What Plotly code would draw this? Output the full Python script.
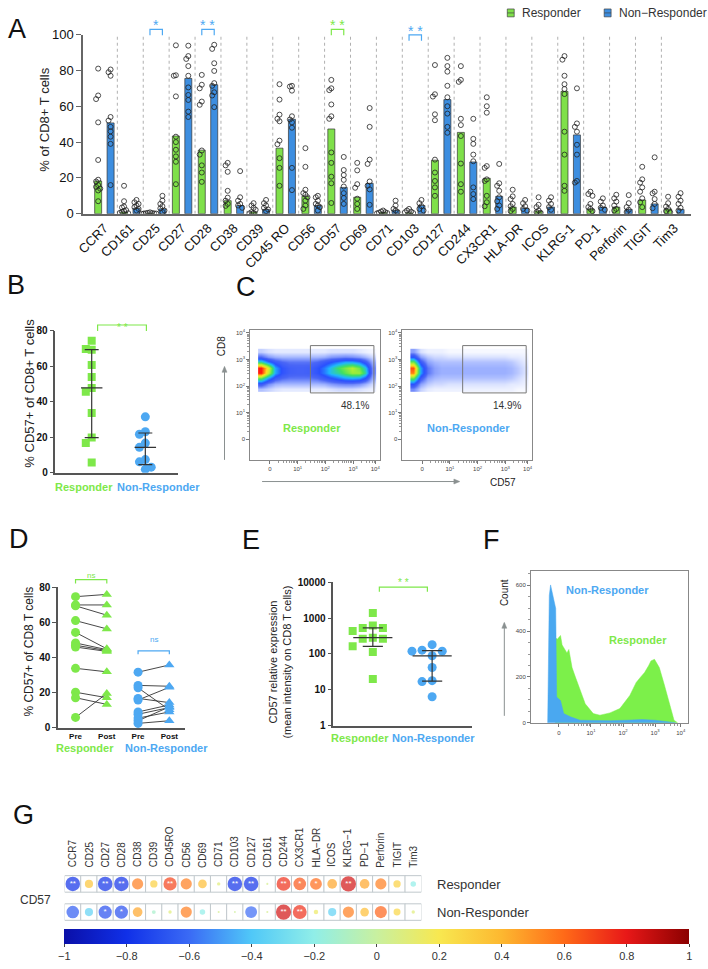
import numpy as np
import plotly.graph_objects as go

W, H = 708, 969
FONT = 'Liberation Sans, Arial, Helvetica, sans-serif'
DARK = '#222222'
BAR_GREEN = '#7fe04a'
BAR_BLUE = '#3d8ee0'
GREEN = '#7ee84a'
BLUE = '#4da8f2'

# ---------------- panel A : % of CD8+ T cells ----------------
markers = ["CCR7", "CD161", "CD25", "CD27", "CD28", "CD38", "CD39", "CD45 RO", "CD56", "CD57",
           "CD69", "CD71", "CD103", "CD127", "CD244", "CX3CR1", "HLA-DR", "ICOS", "KLRG-1",
           "PD-1", "Perforin", "TIGIT", "Tim3"]
resp_mean = [18.3, 1.0, 0.3, 43.4, 35.5, 7.3, 1.0, 36.6, 9.7, 47.3, 9.2, 0.8, 0.5, 29.9,
             45.4, 19.8, 3.7, 1.5, 68.3, 2.7, 3.7, 7.7, 2.7]
nonresp_mean = [50.7, 3.0, 2.7, 75.5, 72.0, 4.6, 2.4, 52.7, 4.6, 14.7, 17.0, 2.0, 4.6, 63.7,
                28.9, 9.7, 3.1, 3.7, 44.0, 3.7, 2.4, 5.5, 2.4]
resp_pts = [
    [81, 66, 64, 51, 30, 19, 18, 16, 15, 14, 13, 7],
    [15.6, 7, 4, 3.5, 2, 1.5, 1, 0.5, 0.3],
    [0.8, 0.5, 0.4, 0.3, 0.2, 0.1, 0.1, 0],
    [94, 77.3, 77, 65.5, 43, 40, 35.7, 32, 29, 16.5],
    [77.5, 72, 70, 62.6, 60.8, 35.3, 33, 27, 23, 17.8],
    [28.4, 27, 23.4, 12.8, 9, 7.3, 5.5, 4.4],
    [5.9, 4.6, 3.3, 2.2, 0.9, 0.4, 0.2],
    [72.3, 63.7, 55.3, 53, 51.6, 40.8, 38.8, 31, 25.6, 15.6],
    [36.6, 26.2, 13.4, 11.5, 10.6, 9.2, 7.3, 4.6, 2.7],
    [74.7, 70, 69, 61, 54.4, 53, 34.2, 28.4, 20.7, 17, 6],
    [28.4, 24.2, 16.5, 14.5, 8.4, 5.5, 2.7],
    [1.8, 1.2, 0.9, 0.6, 0.4, 0.2],
    [2.7, 1.8, 1.2, 0.8, 0.4],
    [83, 66.7, 65.4, 55.5, 52.2, 30.2, 23, 18.3, 14.7, 10],
    [82.4, 74.7, 73.6, 53, 49.5, 43.4, 28, 16.5, 12.3],
    [65, 60, 56.4, 26.6, 25.6, 19.2, 18.3, 10, 6.4, 4.2],
    [13.4, 9.7, 8.2, 5.5, 4.2, 2.7, 1.5],
    [9.2, 5, 3.7, 1.8, 0.9, 0.5],
    [88, 86, 77, 72.3, 69.6, 66.8, 45.8, 33, 15.6, 12.8],
    [12.3, 11, 10, 5.5, 3.7, 2.7, 1.5],
    [10.6, 8.6, 6.8, 4.6, 2.7, 1.8],
    [26.2, 19.2, 17.4, 14.7, 12.3, 8.6, 6.4, 3.7],
    [9.5, 5.9, 4, 2.7, 1.5, 0.8],
]
nonresp_pts = [
    [80.5, 79, 77, 54, 52, 48.5, 46, 43, 39, 16],
    [7.7, 6.4, 5.5, 4.6, 3.7, 2.7, 1.8],
    [10, 7.3, 5.5, 4.2, 3, 1.8, 0.9],
    [93.8, 88, 86.4, 82.4, 77, 70.5, 66.3, 63.5, 57, 54],
    [94.3, 92, 84, 79.7, 72.9, 71.4, 67.8, 66, 59.5],
    [23.8, 9.2, 7.3, 5.5, 4.6, 3.3],
    [7.7, 5.9, 4.6, 3.3, 2.4, 1.5],
    [71.4, 71, 68.7, 54.4, 52.6, 51, 48, 25.6, 13.2],
    [10, 9.2, 7.3, 5.5, 4.6, 3.7, 1.8],
    [31.7, 24.4, 21.6, 18.9, 15.2, 11.5, 8.8, 5.5],
    [59, 48.5, 30.2, 27.8, 18, 15.6, 13.6, 5],
    [7.3, 4.6, 2.7, 1.8, 0.9],
    [7.7, 5.9, 4.2, 2.7, 1.8],
    [87, 82.4, 79.3, 71.4, 65, 60, 55.9, 48.5, 45.2],
    [53, 41.8, 39, 33, 29.3, 14.7, 11, 8.2],
    [27.8, 17, 15.6, 12.8, 9.2, 7, 4.6, 2.7],
    [7.7, 5.9, 4.2, 2.7, 1.8],
    [9.2, 7.3, 5.5, 3.7, 2.2],
    [70, 50.4, 48.5, 45.8, 38.5, 33, 18.3, 17.4],
    [8.6, 6.8, 4.6, 3.3, 2.2],
    [10.4, 5.9, 3.7, 2.2, 0.9],
    [31.5, 12.3, 11.4, 8.2, 5.5, 3.1],
    [11.5, 9.5, 7.3, 5.5, 3.3, 1.8],
]
# significance above the pairs: (marker, stars, colour of group)
a_sig = [("CD25", "*", "blue"), ("CD28", "* *", "blue"), ("CD57", "* *", "green"), ("CD103", "* *", "blue")]
legend_names = ["Responder", "Non−Responder"]

# ---------------- panel B : % CD57+ ----------------
b_resp = [74.4, 69.8, 69.4, 60.7, 54.0, 47.8, 45.7, 33.7, 19.8, 16.7, 5.7]
b_nonresp = [31.5, 23.1, 21.7, 16.7, 14.3, 7.4, 6.1, 3.1, 1.9]

# ---------------- panel C : CD8 vs CD57 density (estimated from the dot plots) ----------------
c_x = [-0.3, -0.05, 0.2, 0.45, 0.7, 0.95, 1.2, 1.45, 1.7, 1.95, 2.2, 2.45, 2.7, 2.95, 3.2, 3.45, 3.7]
c_y = [1.9, 2.1, 2.3, 2.5, 2.7, 2.9, 3.1, 3.3]
c_resp = [
    [0.8, 0.6, 0.4, 0.3, 0.3, 0.3, 0.3, 0.3, 0.3, 0.3, 0.4, 0.5, 0.5, 0.5, 0.4, 0.3, 0.2],
    [2.5, 1.5, 1, 0.9, 0.9, 0.9, 0.9, 0.9, 0.9, 1, 1.3, 1.5, 1.6, 1.6, 1.4, 1, 0.5],
    [6, 4, 2.5, 2, 1.8, 1.8, 1.8, 1.8, 2, 2.5, 3, 3.5, 4, 4.2, 4, 3, 1.1],
    [10, 7, 4, 2.8, 2.3, 2.2, 2.2, 2.3, 2.8, 3.5, 4.5, 5, 5.8, 6.5, 6.5, 5, 1.5],
    [10, 7.5, 4, 2.8, 2.3, 2.2, 2.2, 2.3, 2.8, 3.5, 4.5, 5.5, 6.2, 6.8, 6, 4.5, 1.5],
    [5, 3.5, 2.5, 2, 1.8, 1.8, 1.8, 1.8, 2, 2.5, 3, 3.5, 4, 4, 3.5, 2.5, 1],
    [2, 1.3, 1, 0.9, 0.9, 0.9, 0.9, 0.9, 0.9, 1, 1.3, 1.4, 1.5, 1.4, 1.2, 0.9, 0.5],
    [0.6, 0.4, 0.3, 0.3, 0.3, 0.3, 0.3, 0.3, 0.3, 0.3, 0.4, 0.4, 0.4, 0.4, 0.3, 0.2, 0.1],
]
c_nonresp = [
    [1.5, 0.6, 0.3, 0.2, 0.2, 0.2, 0.2, 0.2, 0.2, 0.2, 0.2, 0.2, 0.2, 0.2, 0.2, 0.1, 0.1],
    [3, 1.2, 0.7, 0.5, 0.5, 0.4, 0.4, 0.4, 0.4, 0.4, 0.4, 0.4, 0.4, 0.4, 0.3, 0.3, 0.2],
    [6, 2.5, 1.2, 0.9, 0.8, 0.8, 0.8, 0.8, 0.8, 0.8, 0.8, 0.8, 0.8, 0.8, 0.7, 0.5, 0.3],
    [9, 4, 1.8, 1.2, 1, 1, 1, 1, 1, 1, 1, 1, 1, 1, 0.9, 0.7, 0.4],
    [9.5, 4, 1.8, 1.2, 1, 1, 1, 1, 1, 1, 1, 1, 1, 1, 0.9, 0.7, 0.4],
    [6, 2.5, 1.2, 0.9, 0.8, 0.8, 0.8, 0.8, 0.8, 0.8, 0.8, 0.8, 0.8, 0.8, 0.7, 0.5, 0.3],
    [3, 1.2, 0.7, 0.5, 0.5, 0.4, 0.4, 0.4, 0.4, 0.4, 0.4, 0.4, 0.4, 0.4, 0.3, 0.3, 0.2],
    [1.2, 0.4, 0.2, 0.2, 0.2, 0.1, 0.1, 0.1, 0.1, 0.1, 0.1, 0.1, 0.1, 0.1, 0.1, 0.1, 0.1],
]
c_pct = ["48.1%", "14.9%"]
flow_tickvals = [0, 1, 2, 3, 3.8]
flow_ticktext = ["0", "10<sup>1</sup>", "10<sup>2</sup>", "10<sup>3</sup>", "10<sup>4</sup>"]

# ---------------- panel D : pre / post pairs ----------------
d_resp_pre = [74.6, 69.9, 69.4, 61.0, 54.3, 48.3, 47.0, 46.0, 33.9, 20.3, 17.2, 6.0]
d_resp_post = [75.9, 69.9, 64.1, 56.3, 45.0, 44.5, 44.0, 43.5, 31.9, 17.2, 13.4, 19.6]
d_non_pre = [31.7, 24.2, 22.8, 16.8, 15.9, 9.1, 7.8, 5.6, 4.1, 2.6]
d_non_post = [35.8, 23.7, 10.3, 14.4, 23.1, 13.1, 11.6, 9.1, 12.0, 4.1]

# ---------------- panel E : CD57 MFI ----------------
e_resp = [1380, 618, 534, 534, 434, 285, 267, 267, 164, 114, 20]
e_nonresp = [182, 128, 120, 120, 89, 42, 18, 17, 6.4]

# ---------------- panel F : CD57 histograms ----------------
f_x_resp = [-0.11, -0.10, -0.05, 0.0, 0.05, 0.1, 0.15, 0.2, 0.25, 0.31, 0.36, 0.41, 0.5, 0.56,
            0.66, 0.82, 1.07, 1.28, 1.59, 1.9, 2.21, 2.41, 2.55, 2.67, 2.8, 2.87, 2.98, 3.05,
            3.13, 3.28, 3.44, 3.59, 3.70]
f_resp = [0, 370, 365, 375, 381, 340, 327, 320, 305, 320, 280, 241, 205, 183, 140, 83, 40, 33,
          43, 62, 119, 176, 200, 219, 250, 270, 277, 262, 241, 169, 83, 11, 0]
f_x_non = [-0.35, -0.30, -0.26, -0.21, -0.16, -0.10, -0.07, 0.05, 0.15, 0.36, 0.66, 1.07, 1.59,
           2.1, 2.6, 3.0, 3.44, 3.64]
f_non = [0, 556, 602, 571, 545, 499, 112, 97, 40, 26, 11, 9, 9, 11, 14, 11, 4, 0]

# ---------------- panel G : correlation with CD57 ----------------
g_markers = ["CCR7", "CD25", "CD27", "CD28", "CD38", "CD39", "CD45RO", "CD56", "CD69", "CD71",
             "CD103", "CD127", "CD161", "CD244", "CX3CR1", "HLA−DR", "ICOS", "KLRG−1", "PD−1",
             "Perforin", "TIGIT", "Tim3"]
g_resp_r = [-0.8, 0.35, -0.8, -0.8, 0.55, 0.3, 0.7, 0.55, 0.38, 0.1, -0.8, -0.8, 0.05, 0.75,
            0.65, 0.6, 0.45, 0.85, 0.45, 0.55, 0.3, -0.2]
g_resp_sig = ["**", "", "**", "**", "", "", "**", "", "", "", "**", "**", "", "**", "*", "*",
              "", "**", "", "", "", ""]
g_non_r = [-0.65, -0.35, -0.7, -0.7, 0.45, -0.12, 0.1, 0.55, -0.2, 0.05, 0.02, -0.6, 0.05, 0.85,
           0.75, 0.15, -0.35, 0.55, 0.38, 0.62, 0.28, 0.1]
g_non_sig = ["", "", "*", "*", "", "", "", "", "", "", "", "", "", "**", "**", "", "", "", "",
             "", "", ""]
g_rows = ["Responder", "Non-Responder"]
corr_ticks = [-1, -0.8, -0.6, -0.4, -0.2, 0, 0.2, 0.4, 0.6, 0.8, 1]


def fx(px):
    return px / W


def fy(py):
    return 1 - py / H


def dom_x(a, b):
    return [fx(a), fx(b)]


def dom_y(top, bottom):
    return [fy(bottom), fy(top)]


def swarm(vals, px_per_unit, diam, step):
    # simple beeswarm: centre first, then alternate left / right
    placed = []
    offs = []
    for v in vals:
        y = v * px_per_unit
        cands = [0.0]
        for j in range(1, 12):
            cands += [-j * step, j * step]
        for c in cands:
            if all(abs(c - o) > 1e-9 or abs(y - yy) >= diam for o, yy in placed):
                break
        placed.append((c, y))
        offs.append(c)
    return offs


def median_iqr(vals):
    q1, m, q3 = np.percentile(vals, [25, 50, 75], method='weibull')
    return q1, m, q3


def errbar(centers, groups, w, cw):
    xs, ys = [], []
    for c, vals in zip(centers, groups):
        q1, m, q3 = median_iqr(vals)
        xs += [c - w, c + w, None, c, c, None, c - cw, c + cw, None, c - cw, c + cw, None]
        ys += [m, m, None, q1, q3, None, q1, q1, None, q3, q3, None]
    return xs, ys


annots = []
shapes = []


def txt(px, py, text, size=12, color=DARK, bold=False, angle=0, xanchor='center', yanchor='middle'):
    annots.append(dict(x=fx(px), y=fy(py), xref='paper', yref='paper', text=text, showarrow=False,
                       font=dict(size=size, color=color, weight='bold' if bold else 'normal'),
                       textangle=angle, xanchor=xanchor, yanchor=yanchor))


def bracket(xref, x0, x1, top_py, bot_py, color):
    shapes.append(dict(type='path', xref=xref, yref='paper',
                       path=f"M {x0},{fy(bot_py)} L {x0},{fy(top_py)} L {x1},{fy(top_py)} L {x1},{fy(bot_py)}",
                       line=dict(color=color, width=1.2)))


def arrow(x0, y0, x1, y1):
    # grey axis arrow drawn in page pixels, head at (x1, y1)
    col = '#8a9090'
    shapes.append(dict(type='line', xref='paper', yref='paper', x0=fx(x0), y0=fy(y0), x1=fx(x1), y1=fy(y1),
                       line=dict(color=col, width=1)))
    if x0 == x1:
        d = 5 if y1 < y0 else -5
        pts = [(x1, y1 - 1), (x1 - 2.5, y1 + d), (x1 + 2.5, y1 + d)]
    else:
        d = -5 if x1 > x0 else 5
        pts = [(x1 + 1, y1), (x1 + d, y1 - 2.5), (x1 + d, y1 + 2.5)]
    path = "M " + " L ".join(f"{fx(a)},{fy(b)}" for a, b in pts) + " Z"
    shapes.append(dict(type='path', xref='paper', yref='paper', path=path, fillcolor=col,
                       line=dict(color=col, width=0.5)))


fig = go.Figure()

# ---- A ----
n = len(markers)
xg = [i - 0.24 for i in range(n)]
xb = [i + 0.24 for i in range(n)]
fig.add_trace(go.Bar(x=xg, y=resp_mean, width=0.27, name=legend_names[0], showlegend=False,
                     marker=dict(color=BAR_GREEN, line=dict(color='#333', width=0.7)),
                     xaxis='x', yaxis='y'))
fig.add_trace(go.Bar(x=xb, y=nonresp_mean, width=0.27, name=legend_names[1], showlegend=False,
                     marker=dict(color=BAR_BLUE, line=dict(color='#333', width=0.7)),
                     xaxis='x', yaxis='y'))
dx, dy = [], []
for centers, groups in ((xg, resp_pts), (xb, nonresp_pts)):
    for c, pts in zip(centers, groups):
        offs = swarm(pts, 1.82, 4.5, 0.08)
        dx += [c + o for o in offs]
        dy += pts
fig.add_trace(go.Scatter(x=dx, y=dy, mode='markers', showlegend=False, xaxis='x', yaxis='y',
                         marker=dict(symbol='circle-open', size=5, color='#222',
                                     line=dict(width=0.8, color='#222'))))
for i in range(n - 1):
    shapes.append(dict(type='line', xref='x', yref='y', x0=i + 0.5, x1=i + 0.5, y0=0, y1=100,
                       line=dict(color='#b0b0b0', width=1, dash='dot'), layer='below'))
for name, stars, grp in a_sig:
    i = markers.index(name)
    col = BLUE if grp == 'blue' else GREEN
    top = 28.3 if name == "CD103" else 22.7
    bracket('x', xg[i], xb[i], top, top + 6, col)
    annots.append(dict(x=i, y=fy(top - 4), xref='x', yref='paper', text=stars, showarrow=False,
                       yanchor='middle', font=dict(size=14, color=col)))
txt(38, 115, "% of CD8+ T cells", size=13, angle=-90)
# legend drawn by hand (small boxes + labels)
for name, col, bx in ((legend_names[0], BAR_GREEN, 506), (legend_names[1], BAR_BLUE, 604)):
    shapes.append(dict(type='rect', xref='paper', yref='paper', x0=fx(bx), x1=fx(bx + 7),
                       y0=fy(10), y1=fy(2), fillcolor=col, line=dict(color='#444', width=0.7)))
    shapes.append(dict(type='line', xref='paper', yref='paper', x0=fx(bx), x1=fx(bx + 7),
                       y0=fy(6), y1=fy(6), line=dict(color='#444', width=0.7)))
    txt(bx + 13, 6, name, size=12, color='#333', xanchor='left')

# ---- B ----
b_off_r = swarm(b_resp, 1.8, 9, 0.11)
b_off_n = swarm(b_nonresp, 1.8, 9, 0.11)
fig.add_trace(go.Scatter(x=[0 + o for o in b_off_r], y=b_resp, mode='markers', showlegend=False,
                         marker=dict(symbol='square', size=8, color=GREEN), xaxis='x2', yaxis='y2'))
fig.add_trace(go.Scatter(x=[1 + o for o in b_off_n], y=b_nonresp, mode='markers', showlegend=False,
                         marker=dict(symbol='circle', size=9, color=BLUE), xaxis='x2', yaxis='y2'))
ex, ey = errbar([0, 1], [b_resp, b_nonresp], 0.2, 0.13)
fig.add_trace(go.Scatter(x=ex, y=ey, mode='lines', showlegend=False, line=dict(color='#333', width=1.2),
                         xaxis='x2', yaxis='y2'))
bracket('x2', 0.11, 1.02, 323, 329, GREEN)
annots.append(dict(x=0.565, y=fy(318), xref='x2', yref='paper', text='* *', showarrow=False,
                   font=dict(size=10, color=GREEN)))
txt(23, 392, "% CD57+ of CD8+ T cells", size=13, angle=-90)
txt(78, 488, "Responder", size=11, color=GREEN, bold=True)
txt(153, 488, "Non-Responder", size=11, color=BLUE, bold=True)

# ---- C ----
c_scale = [[0, '#ffffff'], [0.03, '#e4eaff'], [0.1, '#9cb0ff'], [0.2, '#4a66f6'], [0.3, '#2a50ff'],
           [0.42, '#20b8ff'], [0.55, '#40e060'], [0.68, '#b8f030'], [0.8, '#ffe020'],
           [0.9, '#ff8010'], [1, '#ff1a10']]
for z, xa, ya in ((c_resp, 'x3', 'y3'), (c_nonresp, 'x4', 'y4')):
    fig.add_trace(go.Heatmap(x=c_x, y=c_y, z=z, zmin=0, zmax=10, zsmooth='best', colorscale=c_scale,
                             showscale=False, hoverinfo='skip', xaxis=xa, yaxis=ya))
    shapes.append(dict(type='rect', xref=xa, yref=ya, x0=1.46, x1=3.75, y0=1.74, y1=3.52,
                       line=dict(color='#777', width=1)))
txt(352, 405, c_pct[0], size=10, color='#333')
txt(506, 405, c_pct[1], size=10, color='#333')
txt(308, 428, "Responder", size=11, color=GREEN, bold=True)
txt(467, 428, "Non-Responder", size=11, color=BLUE, bold=True)
txt(217, 345, "CD8", size=10, angle=-90)
arrow(220, 460, 220, 366)
arrow(258, 482, 457, 482)
txt(502, 483, "CD57", size=10)

# ---- D ----
lx, ly = [], []
for pre, post, x0 in ((d_resp_pre, d_resp_post, 0), (d_non_pre, d_non_post, 2)):
    for a, b in zip(pre, post):
        lx += [x0, x0 + 1, None]
        ly += [a, b, None]
fig.add_trace(go.Scatter(x=lx, y=ly, mode='lines', showlegend=False, line=dict(color='#333', width=0.9),
                         xaxis='x5', yaxis='y5'))
for vals, xpos, sym, col in ((d_resp_pre, 0, 'circle', GREEN), (d_resp_post, 1, 'triangle-up', GREEN),
                             (d_non_pre, 2, 'circle', BLUE), (d_non_post, 3, 'triangle-up', BLUE)):
    fig.add_trace(go.Scatter(x=[xpos] * len(vals), y=vals, mode='markers', showlegend=False,
                             marker=dict(symbol=sym, size=9, color=col), xaxis='x5', yaxis='y5'))
bracket('x5', 0, 1, 581.7, 585.5, GREEN)
bracket('x5', 2, 3, 654, 657.5, BLUE)
annots.append(dict(x=0.5, y=fy(577), xref='x5', yref='paper', text='ns', showarrow=False,
                   font=dict(size=8, color=GREEN)))
annots.append(dict(x=2.5, y=fy(649.5), xref='x5', yref='paper', text='ns', showarrow=False,
                   font=dict(size=8, color=BLUE)))
txt(22, 655, "% CD57+ of CD8 T cells", size=12, angle=-90)
txt(79, 753, "Responder", size=11, color=GREEN, bold=True)
txt(161, 753, "Non-Responder", size=11, color=BLUE, bold=True)

# ---- E ----
e_off_r = swarm(list(np.log10(e_resp)), 36.4, 9, 0.17)
e_off_n = swarm(list(np.log10(e_nonresp)), 36.4, 9, 0.17)
fig.add_trace(go.Scatter(x=[0 + o for o in e_off_r], y=e_resp, mode='markers', showlegend=False,
                         marker=dict(symbol='square', size=8, color=GREEN), xaxis='x6', yaxis='y6'))
fig.add_trace(go.Scatter(x=[1 + o for o in e_off_n], y=e_nonresp, mode='markers', showlegend=False,
                         marker=dict(symbol='circle', size=9, color=BLUE), xaxis='x6', yaxis='y6'))
ex, ey = errbar([0, 1], [e_resp, e_nonresp], 0.33, 0.17)
fig.add_trace(go.Scatter(x=ex, y=ey, mode='lines', showlegend=False, line=dict(color='#333', width=1.2),
                         xaxis='x6', yaxis='y6'))
bracket('x6', 0.11, 0.92, 589.3, 594, GREEN)
annots.append(dict(x=0.515, y=fy(585), xref='x6', yref='paper', text='* *', showarrow=False,
                   font=dict(size=10, color=GREEN)))
txt(276, 665, "CD57 relative expression<br>(mean intensity on CD8 T cells)", size=11, angle=-90)
txt(357, 743, "Responder", size=11, color=GREEN, bold=True)
txt(431, 743, "Non-Responder", size=11, color=BLUE, bold=True)

# ---- F ----
fig.add_trace(go.Scatter(x=f_x_resp, y=f_resp, mode='lines', fill='tozeroy', showlegend=False,
                         fillcolor='#7cf04a', line=dict(color='#7cf04a', width=0.5),
                         xaxis='x7', yaxis='y7'))
fig.add_trace(go.Scatter(x=f_x_non, y=f_non, mode='lines', fill='tozeroy', showlegend=False,
                         fillcolor='#4aa8f0', line=dict(color='#4aa8f0', width=0.5),
                         xaxis='x7', yaxis='y7'))
txt(607, 592, "Non-Responder", size=11, color=BLUE, bold=True)
txt(638, 643, "Responder", size=11, color=GREEN, bold=True)
txt(503, 595, "Count", size=10, angle=-90)
arrow(503, 720, 503, 626)

# ---- G ----
corr_scale = [[0, '#0a0fa8'], [0.1, '#1030e8'], [0.2, '#3a6af5'], [0.3, '#50c8f8'], [0.4, '#90eee8'],
              [0.5, '#c8f0a0'], [0.6, '#f8e850'], [0.7, '#fdb830'], [0.8, '#ff6a18'],
              [0.9, '#e81818'], [1, '#8b0000']]
ng = len(g_markers)
gx = list(range(ng)) * 2
gy = [1] * ng + [0] * ng
gr = g_resp_r + g_non_r
gs = g_resp_sig + g_non_sig
fig.add_trace(go.Scatter(x=gx, y=gy, mode='markers', showlegend=False, hoverinfo='skip',
                         marker=dict(symbol='square', size=16.5, color='white',
                                     line=dict(color='#c0c8cc', width=1)),
                         xaxis='x8', yaxis='y8'))
fig.add_trace(go.Scatter(x=gx, y=gy, mode='markers', showlegend=False,
                         marker=dict(symbol='circle', size=[max(2, 17 * abs(r) ** 0.7) for r in gr],
                                     color=gr, colorscale=corr_scale, cmin=-1, cmax=1,
                                     line=dict(width=0), showscale=True,
                                     colorbar=dict(orientation='h', x=fx(374), xanchor='center',
                                                   y=fy(936), yanchor='top', ypad=0, xpad=0,
                                                   len=632 / W, lenmode='fraction', thickness=15,
                                                   tickvals=corr_ticks,
                                                   ticktext=[str(t).replace('-', '−') for t in corr_ticks],
                                                   tickfont=dict(size=11, color='#333'),
                                                   ticks='outside', ticklen=3, outlinewidth=0)),
                         xaxis='x8', yaxis='y8'))
sig_idx = [k for k, s in enumerate(gs) if s]
fig.add_trace(go.Scatter(x=[gx[k] for k in sig_idx], y=[gy[k] for k in sig_idx], mode='text',
                         text=[gs[k] for k in sig_idx], showlegend=False, hoverinfo='skip',
                         textfont=dict(size=8, color='white'), xaxis='x8', yaxis='y8'))
for i, name in enumerate(g_markers):
    txt(66.5 + i * 16.4, 876, name, size=10, color='#333', angle=-90, yanchor='bottom')
txt(433, 891, g_rows[0], size=13, color='#333', xanchor='left')
txt(433, 919.5, g_rows[1], size=13, color='#333', xanchor='left')
txt(11, 907, "CD57", size=12, color='#333', xanchor='left')

# panel letters
for letter, px, py in (("A", 10, 22), ("B", 9, 282), ("C", 242, 284), ("D", 12, 540),
                       ("E", 247, 541), ("F", 490, 541), ("G", 17, 821)):
    txt(px, py, letter, size=27, color='#111')

# minor ticks for the log-like flow axes
flow_minor = [d + np.log10(k) for d in range(0, 4) for k in range(2, 10) if d + np.log10(k) < 3.8]
tickfont_small = dict(size=6, color='#444')

flow_x = dict(range=[-0.71, 3.96], tickvals=flow_tickvals, ticktext=flow_ticktext, tickfont=tickfont_small,
              ticks='outside', ticklen=3, tickcolor='#777', showline=True, mirror=True, linecolor='#888',
              linewidth=1, showgrid=False, zeroline=False,
              minor=dict(tickvals=flow_minor, ticks='outside', ticklen=2, tickcolor='#999'))
flow_y = dict(range=[-0.78, 4.11], tickvals=[0, 1, 2, 3, 4], ticktext=flow_ticktext, tickfont=tickfont_small,
              ticks='outside', ticklen=3, tickcolor='#777', showline=True, mirror=True, linecolor='#888',
              linewidth=1, showgrid=False, zeroline=False,
              minor=dict(tickvals=[d + np.log10(k) for d in range(0, 4) for k in range(2, 10)],
                         ticks='outside', ticklen=2, tickcolor='#999'))
bold_tick = dict(size=10, color='#111', weight='bold')

fig.update_layout(
    width=W, height=H, margin=dict(l=0, r=0, t=0, b=0),
    paper_bgcolor='white', plot_bgcolor='white',
    font=dict(family=FONT, color=DARK),
    barmode='overlay', showlegend=False,
    xaxis=dict(domain=dom_x(77, 692), anchor='y', range=[-0.82, 22.65], tickvals=list(range(n)),
               ticktext=markers, tickangle=-45, tickfont=dict(size=13, color='#111'), ticks='',
               showline=True, linecolor='#666', linewidth=1.5, showgrid=False, zeroline=False),
    yaxis=dict(domain=dom_y(28, 210), anchor='x', range=[0, 100], dtick=20, ticks='outside', ticklen=5,
               tickcolor='#666', tickfont=dict(size=13, color='#111'), showline=True, linecolor='#666',
               linewidth=1.5, showgrid=False, zeroline=False),
    xaxis2=dict(domain=dom_x(49, 173), anchor='y2', range=[-0.676, 1.61], showticklabels=False, ticks='',
                showline=True, linecolor='#555', linewidth=1.5, showgrid=False, zeroline=False),
    yaxis2=dict(domain=dom_y(329, 473), anchor='x2', range=[0, 80], dtick=20, ticks='outside', ticklen=4,
                tickcolor='#555', tickfont=bold_tick, showline=True, linecolor='#555', linewidth=1.5,
                showgrid=False, zeroline=False),
    xaxis3=dict(domain=dom_x(246, 377), anchor='y3', **flow_x),
    yaxis3=dict(domain=dom_y(328, 460), anchor='x3', **flow_y),
    xaxis4=dict(domain=dom_x(400, 531), anchor='y4', **flow_x),
    yaxis4=dict(domain=dom_y(328, 460), anchor='x4', **flow_y),
    xaxis5=dict(domain=dom_x(51.7, 180), anchor='y5', range=[-0.557, 3.5], tickvals=[0, 1, 2, 3],
                ticktext=["Pre", "Post", "Pre", "Post"], tickfont=dict(size=8, color='#111', weight='bold'),
                ticks='', showline=True, linecolor='#555', linewidth=1.5, showgrid=False, zeroline=False),
    yaxis5=dict(domain=dom_y(589.3, 732.3), anchor='x5', range=[0, 80], dtick=20, ticks='outside',
                ticklen=4, tickcolor='#555', tickfont=bold_tick, showline=True, linecolor='#555',
                linewidth=1.5, showgrid=False, zeroline=False),
    xaxis6=dict(domain=dom_x(330, 470), anchor='y6', range=[-0.667, 1.667], showticklabels=False, ticks='',
                showline=True, linecolor='#555', linewidth=1.5, showgrid=False, zeroline=False),
    yaxis6=dict(domain=dom_y(584.3, 730), anchor='x6', type='log', range=[0, 4],
                tickvals=[1, 10, 100, 1000, 10000], ticktext=["1", "10", "100", "1000", "10000"],
                ticks='outside', ticklen=4, tickcolor='#555', tickfont=bold_tick, showline=True,
                linecolor='#555', linewidth=1.5, showgrid=False, zeroline=False),
    xaxis7=dict(domain=dom_x(530, 688.3), anchor='y7', range=[-0.87, 4.01], tickvals=flow_tickvals,
                ticktext=flow_ticktext, tickfont=tickfont_small, ticks='outside', ticklen=3,
                tickcolor='#777', showline=True, mirror=True, linecolor='#888', linewidth=1,
                showgrid=False, zeroline=False,
                minor=dict(tickvals=flow_minor, ticks='outside', ticklen=2, tickcolor='#999')),
    yaxis7=dict(domain=dom_y(573.3, 727.7), anchor='x7', range=[-3, 661], tickvals=[0, 200, 400, 600],
                tickfont=tickfont_small, ticks='outside', ticklen=3, tickcolor='#777', showline=True,
                mirror=True, linecolor='#888', linewidth=1, showgrid=False, zeroline=False,
                minor=dict(dtick=50, ticks='outside', ticklen=2, tickcolor='#999')),
    xaxis8=dict(domain=dom_x(58.3, 419.1), anchor='y8', range=[-0.5, 21.5], visible=False),
    yaxis8=dict(domain=dom_y(876.4, 933.6), anchor='x8', range=[-0.5, 1.5], visible=False),
    shapes=shapes, annotations=annots,
)

# the page's default body margin would push the figure 8 px off; drop it
fig.write_html("out.html", config={'displayModeBar': False},
               post_script="document.body.style.margin='0px';")
